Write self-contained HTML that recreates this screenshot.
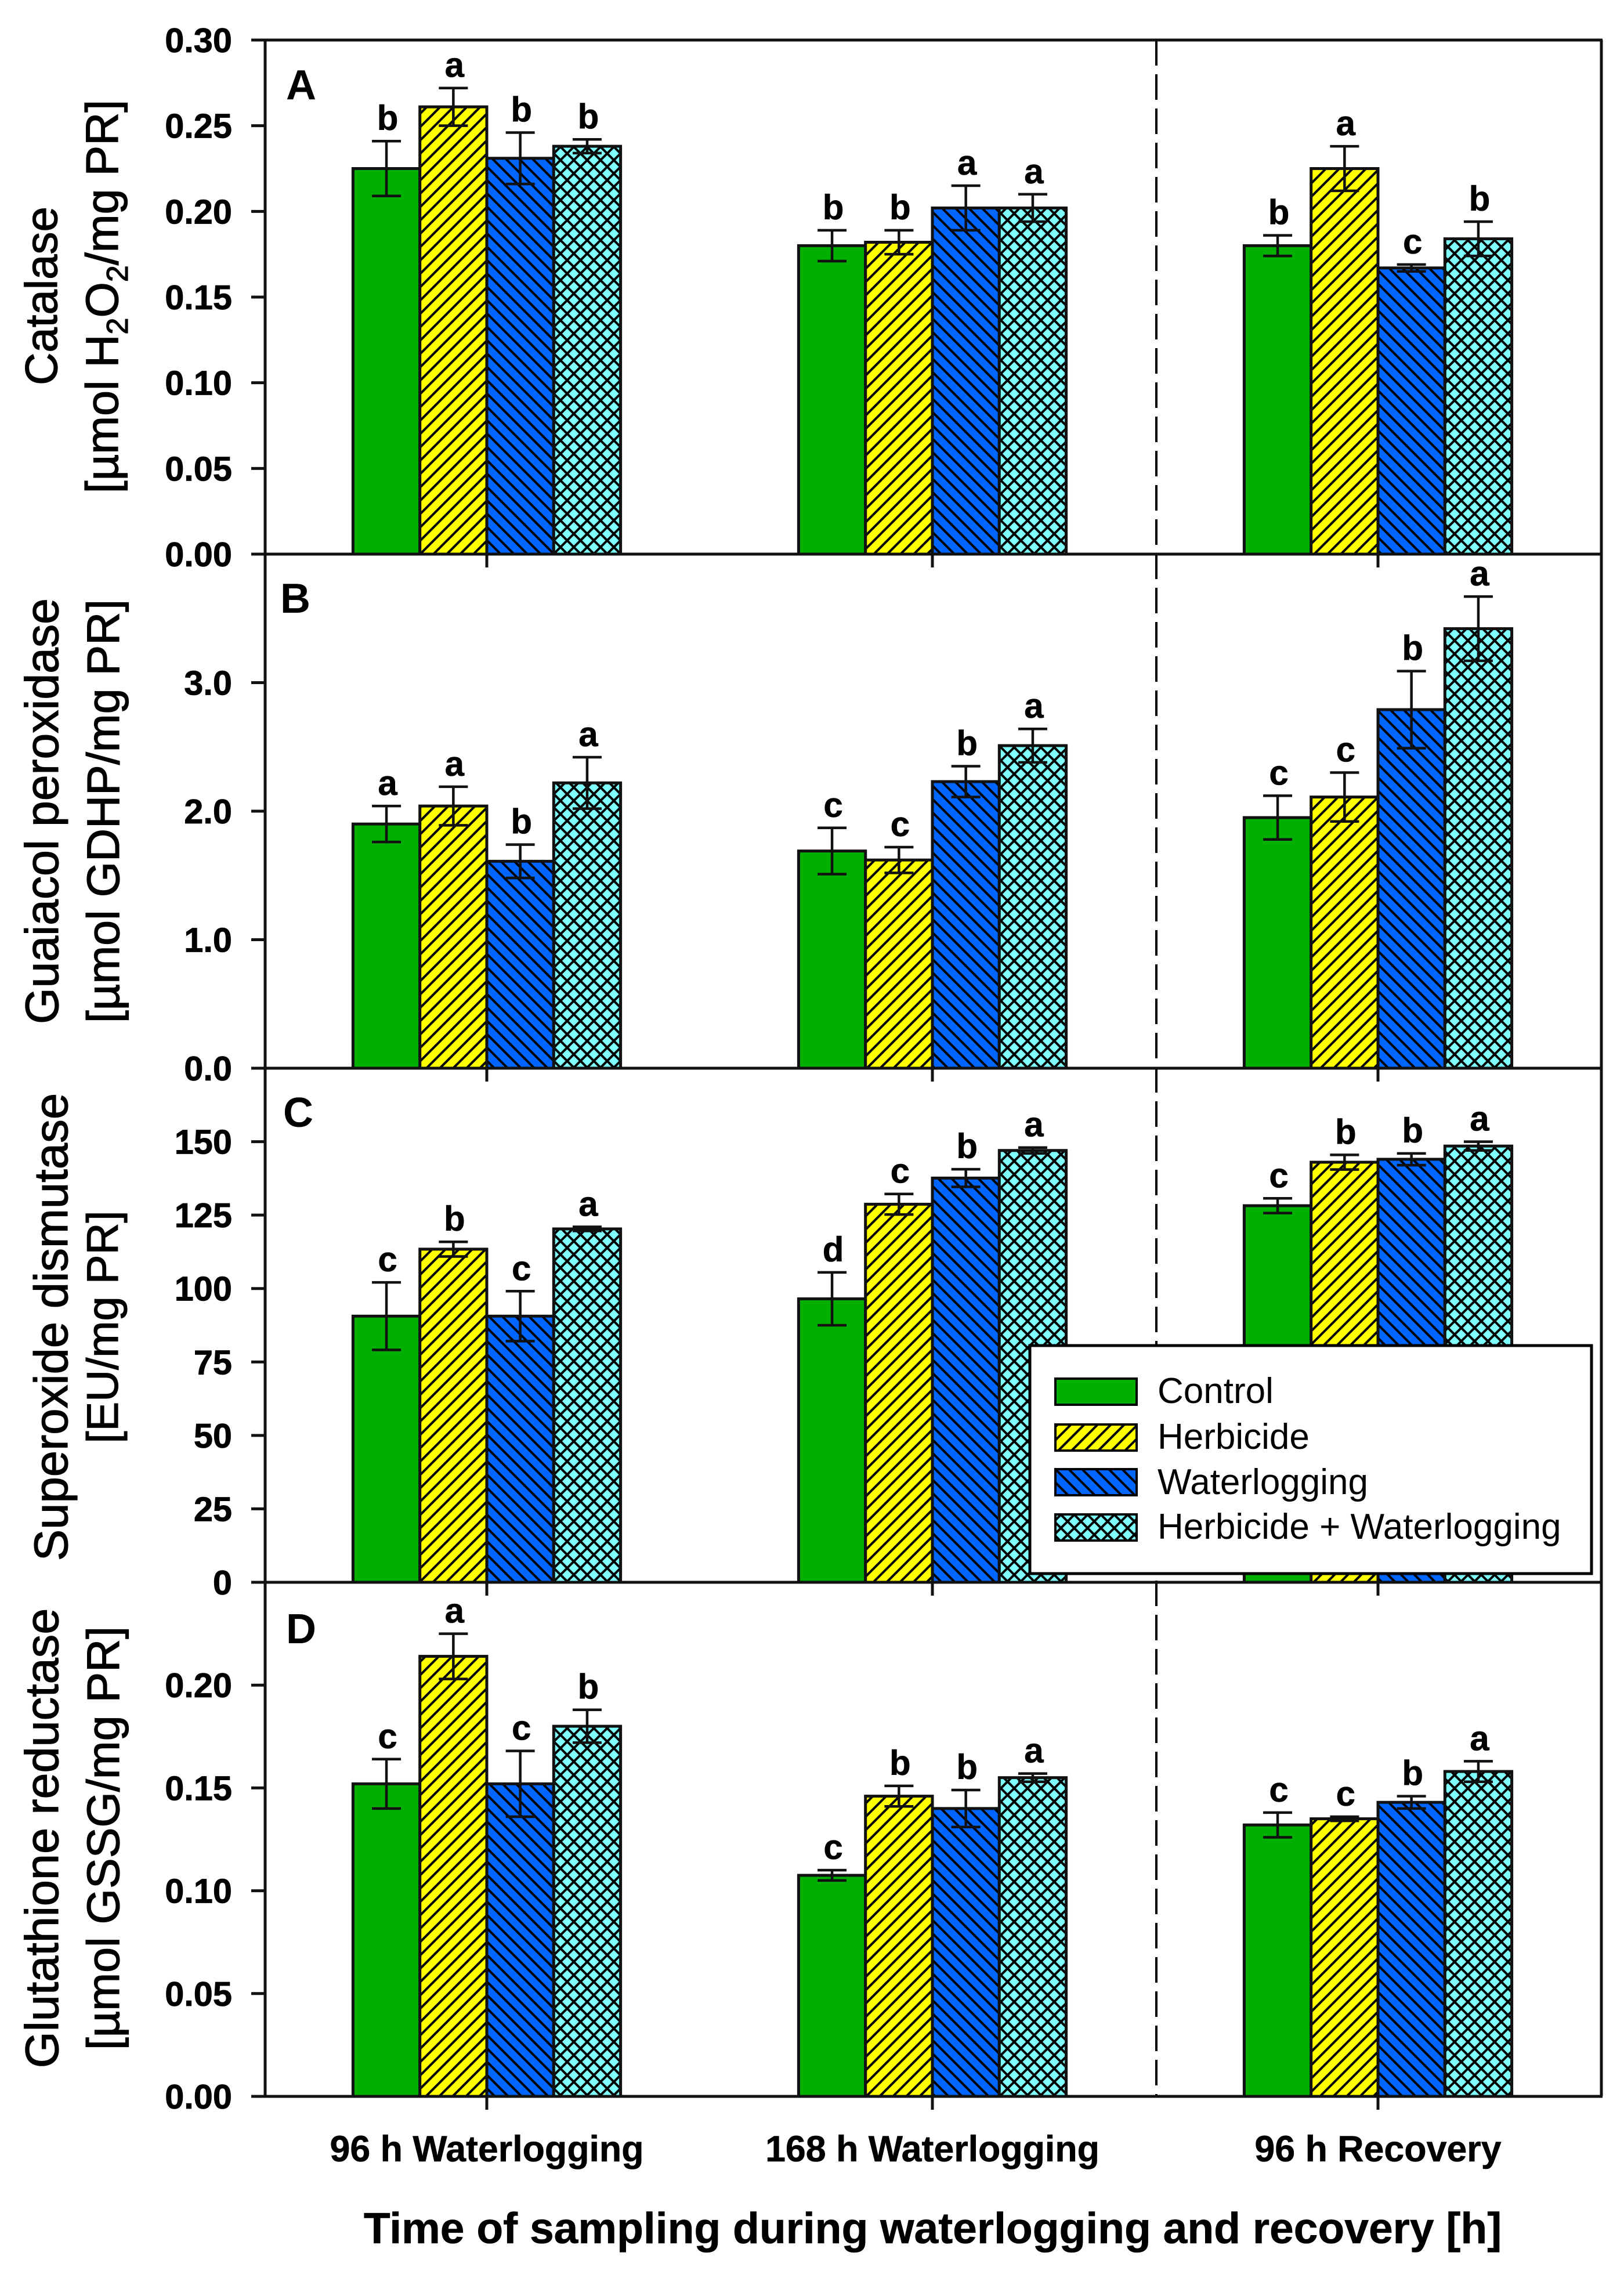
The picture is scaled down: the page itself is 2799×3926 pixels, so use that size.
<!DOCTYPE html>
<html lang="en">
<head>
<meta charset="utf-8">
<title>Antioxidant enzyme activity during waterlogging and recovery</title>
<style>
html,body{margin:0;padding:0;background:#fff;}
svg{display:block;position:absolute;left:0;top:0;}
text{font-family:"Liberation Sans",sans-serif;fill:#000;}
.title{font-size:80.5px;stroke:#000;stroke-width:1.2px;}
.unit{font-size:79px;stroke:#000;stroke-width:1.2px;}
.tick{font-size:59.5px;font-weight:bold;text-anchor:end;stroke:#000;stroke-width:.8px;}
.sig{font-size:60px;font-weight:bold;text-anchor:middle;stroke:#000;stroke-width:.6px;}
.panel{font-size:72px;font-weight:bold;}
.cat{font-size:62.7px;font-weight:bold;text-anchor:middle;stroke:#000;stroke-width:.6px;}
.legend{font-size:62px;}
</style>
</head>
<body>
<svg id="chart" xmlns="http://www.w3.org/2000/svg" width="2799" height="3926" viewBox="0 0 2799 3926">
  <defs>
    <pattern id="hatch-yellow" patternUnits="userSpaceOnUse" width="23" height="23">
      <rect width="23" height="23" fill="#ffff00"/>
      <path d="M-3,3 L3,-3 M0,23 L23,0 M20,26 L26,20" stroke="#000" stroke-width="4" fill="none"/>
    </pattern>
    <pattern id="hatch-blue" patternUnits="userSpaceOnUse" width="23" height="23">
      <rect width="23" height="23" fill="#0066ff"/>
      <path d="M-3,20 L3,26 M0,0 L23,23 M20,-3 L26,3" stroke="#000" stroke-width="4" fill="none"/>
    </pattern>
    <pattern id="hatch-cyan" patternUnits="userSpaceOnUse" width="23" height="23">
      <rect width="23" height="23" fill="#80ffff"/>
      <path d="M-3,3 L3,-3 M0,23 L23,0 M20,26 L26,20 M-3,20 L3,26 M0,0 L23,23 M20,-3 L26,3" stroke="#000" stroke-width="4" fill="none"/>
    </pattern>
  </defs>

  <g id="plot-layer"></g>

  <line x1="1993" y1="69" x2="1993" y2="3613" stroke="#000" stroke-width="4" stroke-dasharray="44 15"/>

  <g id="axis-layer"></g>

  <text class="title" transform="translate(98,510) rotate(-90)" text-anchor="middle" style="font-size:78px">Catalase</text>
  <text class="unit" transform="translate(203,511) rotate(-90)" text-anchor="middle">[µmol H<tspan font-size="52" dy="17">2</tspan><tspan dy="-17">O</tspan><tspan font-size="52" dy="17">2</tspan><tspan dy="-17">/mg PR]</tspan></text>

  <text class="title" transform="translate(100,1398) rotate(-90)" text-anchor="middle">Guaiacol peroxidase</text>
  <text class="unit" transform="translate(205,1398) rotate(-90)" text-anchor="middle">[µmol GDHP/mg PR]</text>

  <text class="title" transform="translate(116,2287) rotate(-90)" text-anchor="middle" style="font-size:81.5px">Superoxide dismutase</text>
  <text class="unit" transform="translate(203,2287) rotate(-90)" text-anchor="middle" style="font-size:76px">[EU/mg PR]</text>

  <text class="title" transform="translate(100,3168) rotate(-90)" text-anchor="middle" style="font-size:81px">Glutathione reductase</text>
  <text class="unit" transform="translate(205,3168) rotate(-90)" text-anchor="middle">[µmol GSSG/mg PR]</text>

  <text x="1607.5" y="3866" text-anchor="middle" font-size="75" font-weight="bold" stroke="#000" stroke-width=".6">Time of sampling during waterlogging and recovery [h]</text>

  <g>
    <rect x="1775" y="2319" width="968" height="393" fill="#fff" stroke="#000" stroke-width="5"/>
    <g>
      <rect x="1819" y="2376" width="140" height="45" fill="#00b000" stroke="#000" stroke-width="4"/>
      <text class="legend" x="1995" y="2418">Control</text>
    </g>
    <g>
      <rect x="1819" y="2455" width="140" height="45" fill="url(#hatch-yellow)" stroke="#000" stroke-width="4"/>
      <text class="legend" x="1995" y="2497">Herbicide</text>
    </g>
    <g>
      <rect x="1819" y="2532" width="140" height="45" fill="url(#hatch-blue)" stroke="#000" stroke-width="4"/>
      <text class="legend" x="1995" y="2575">Waterlogging</text>
    </g>
    <g>
      <rect x="1819" y="2610" width="140" height="45" fill="url(#hatch-cyan)" stroke="#000" stroke-width="4"/>
      <text class="legend" x="1995" y="2652">Herbicide + Waterlogging</text>
    </g>
  </g>
</svg>

<script>
// ---- Data ----
const categories = ['96 h Waterlogging', '168 h Waterlogging', '96 h Recovery'];
const seriesNames = ['control', 'herbicide', 'waterlogging', 'herbicide-waterlogging'];
const panelLetters = ['A', 'B', 'C', 'D'];
const panelNames = ['catalase', 'guaiacol-peroxidase', 'superoxide-dismutase', 'glutathione-reductase'];
const yMaximums = [0.30, 4.0, 175, 0.25];

const tickLabelsA = ['0.00', '0.05', '0.10', '0.15', '0.20', '0.25', '0.30'];
const tickLabelsB = ['0.0', '1.0', '2.0', '3.0'];
const tickLabelsC = ['0', '25', '50', '75', '100', '125', '150'];
const tickLabelsD = ['0.00', '0.05', '0.10', '0.15', '0.20'];

// values: one row per time point, one column per treatment
const valuesA = [[0.225, 0.261, 0.231, 0.238], [0.180, 0.182, 0.202, 0.202], [0.180, 0.225, 0.167, 0.184]];
const errorsA = [[0.016, 0.011, 0.015, 0.004], [0.009, 0.007, 0.013, 0.008], [0.006, 0.013, 0.002, 0.010]];
const lettersA = [['b', 'a', 'b', 'b'], ['b', 'b', 'a', 'a'], ['b', 'a', 'c', 'b']];

const valuesB = [[1.90, 2.04, 1.61, 2.22], [1.69, 1.62, 2.23, 2.51], [1.95, 2.11, 2.79, 3.42]];
const errorsB = [[0.14, 0.15, 0.13, 0.20], [0.18, 0.10, 0.12, 0.13], [0.17, 0.19, 0.30, 0.25]];
const lettersB = [['a', 'a', 'b', 'a'], ['c', 'c', 'b', 'a'], ['c', 'c', 'b', 'a']];

const valuesC = [[90.6, 113.4, 90.6, 120.3], [96.5, 128.7, 137.6, 147], [128.2, 143, 144, 148.5]];
const errorsC = [[11.5, 2.5, 8.5, 0.7], [9, 3.5, 3, 1], [2.5, 2.5, 2, 1.5]];
const lettersC = [['c', 'b', 'c', 'a'], ['d', 'c', 'b', 'a'], ['c', 'b', 'b', 'a']];

const valuesD = [[0.152, 0.214, 0.152, 0.180], [0.1075, 0.146, 0.140, 0.155], [0.132, 0.135, 0.143, 0.158]];
const errorsD = [[0.012, 0.011, 0.016, 0.008], [0.0025, 0.005, 0.009, 0.002], [0.006, 0.001, 0.003, 0.005]];
const lettersD = [['c', 'a', 'c', 'b'], ['c', 'b', 'b', 'a'], ['c', 'c', 'b', 'a']];

const allTickLabels = [tickLabelsA, tickLabelsB, tickLabelsC, tickLabelsD];
const allValues = [valuesA, valuesB, valuesC, valuesD];
const allErrors = [errorsA, errorsB, errorsC, errorsD];
const allLetters = [lettersA, lettersB, lettersC, lettersD];

// ---- Layout ----
const SVG_NS = 'http://www.w3.org/2000/svg';
const plotLeft = 457, plotRight = 2760, plotTop = 69, panelHeight = 886;
const firstGroupCentre = 839, groupSpacing = 768, barWidth = 115.3;
const seriesFills = ['#00b000', 'url(#hatch-yellow)', 'url(#hatch-blue)', 'url(#hatch-cyan)'];
const panelLabelOffsets = [102, 101, 101, 105];
const panelLabelInsets = [36, 26, 31, 36];
const plotLayer = document.getElementById('plot-layer');
const axisLayer = document.getElementById('axis-layer');

function panelBottom(p) { return plotTop + panelHeight * (p + 1); }
function yScale(p, v) { return panelBottom(p) - (v / yMaximums[p]) * panelHeight; }
function groupCentre(g) { return firstGroupCentre + groupSpacing * g; }
function xScale(g, s) { return groupCentre(g) + (s - 2) * barWidth; }

function make(tag, parent, attrs, content) {
  const node = document.createElementNS(SVG_NS, tag);
  for (const k in attrs) node.setAttribute(k, attrs[k]);
  if (content !== undefined) node.textContent = content;
  parent.appendChild(node);
  return node;
}
const AXIS = { stroke: '#111', 'stroke-width': 5 };

// ---- Bars, error bars, significance letters ----
panelNames.forEach(function (panelName, p) {
  categories.forEach(function (category, g) {
    seriesNames.forEach(function (seriesName, s) {
      const value = allValues[p][g][s];
      const error = allErrors[p][g][s];
      const x = xScale(g, s);
      const top = yScale(p, value);
      const cx = x + barWidth / 2;

      const bar = make('rect', plotLayer, { x: x, y: top, width: barWidth, height: panelBottom(p) - top, fill: seriesFills[s], stroke: '#111', 'stroke-width': 5 });
      
      

      const errTop = yScale(p, value + error);
      const errBottom = yScale(p, value - error);
      const errGroup = make('g', plotLayer, { stroke: '#111', 'stroke-width': 4.5 });
      
      
      make('line', errGroup, { x1: cx, x2: cx, y1: errTop, y2: errBottom });
      make('line', errGroup, { x1: cx - 25, x2: cx + 25, y1: errTop, y2: errTop });
      make('line', errGroup, { x1: cx - 25, x2: cx + 25, y1: errBottom, y2: errBottom });

      const sig = make('text', plotLayer, { class: 'sig', x: cx + 2, y: errTop - 19 }, allLetters[p][g][s]);
      
      
    });
  });
});

// ---- Axes and frame ----
const leftAxis = make('line', axisLayer, Object.assign({ x1: plotLeft, x2: plotLeft, y1: plotTop, y2: panelBottom(3) }, AXIS));


const rightAxis = make('line', axisLayer, Object.assign({ x1: plotRight, x2: plotRight, y1: plotTop, y2: panelBottom(3) }, AXIS));


const topAxis = make('line', axisLayer, Object.assign({ x1: plotLeft - 24, x2: plotRight + 2, y1: plotTop, y2: plotTop }, AXIS));



panelLetters.forEach(function (letter, p) {
  const baseline = make('line', axisLayer, Object.assign({ x1: plotLeft - 24, x2: plotRight + 2, y1: panelBottom(p), y2: panelBottom(p) }, AXIS));
  
  

  const label = make('text', axisLayer, { class: 'panel', x: plotLeft + panelLabelInsets[p], y: plotTop + panelHeight * p + panelLabelOffsets[p] }, letter);
  
  

  allTickLabels[p].forEach(function (tickLabel) {
    const y = yScale(p, Number(tickLabel));
    const tick = make('line', axisLayer, Object.assign({ x1: plotLeft - 24, x2: plotLeft, y1: y, y2: y }, AXIS));
    
    
    const text = make('text', axisLayer, { class: 'tick', x: 400, y: y + 21 }, tickLabel);
    
    
  });

  categories.forEach(function (category, g) {
    const cx = groupCentre(g);
    const xTick = make('line', axisLayer, Object.assign({ x1: cx, x2: cx, y1: panelBottom(p), y2: panelBottom(p) + 23 }, AXIS));
    
    
  });
});

categories.forEach(function (category, g) {
  const catLabel = make('text', axisLayer, { class: 'cat', x: groupCentre(g), y: 3725 }, category);
  
  
});
</script>
</body>
</html>
